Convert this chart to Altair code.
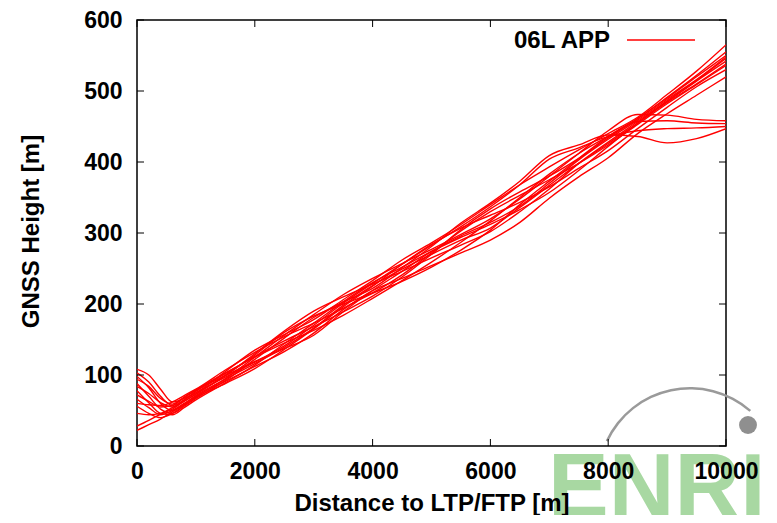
import altair as alt
import pandas as pd

# ---------------- data ----------------
dist = [0, 200, 400, 600, 800, 1000, 1500, 2000, 2500, 3000, 3500, 4000,
        4500, 5000, 5500, 6000, 6500, 7000, 7500, 8000, 8500, 9000, 9500, 10000]

track_01 = [22, 30, 38, 48, 59, 71, 94, 116, 139, 166, 198, 226, 249, 270, 290, 307, 336, 367, 398, 426, 455, 484, 510, 538]
track_02 = [28, 36, 45, 54, 63, 73, 99, 130, 162, 190, 210, 228, 246, 265, 283, 302, 330, 362, 398, 428, 457, 486, 515, 546]
track_03 = [108, 100, 80, 62, 67, 75, 105, 135, 157, 178, 206, 233, 262, 286, 312, 340, 368, 393, 417, 440, 463, 495, 528, 565]
track_04 = [103, 90, 70, 57, 65, 77, 102, 126, 148, 168, 189, 211, 238, 270, 305, 334, 358, 380, 405, 434, 461, 491, 522, 555]
track_05 = [98, 82, 60, 50, 58, 69, 95, 125, 156, 185, 213, 236, 257, 277, 298, 320, 348, 380, 412, 444, 467, 466, 460, 458]
track_06 = [94, 84, 67, 59, 69, 79, 103, 125, 145, 163, 184, 208, 233, 259, 287, 317, 350, 383, 412, 436, 457, 458, 455, 454]
track_07 = [88, 70, 52, 46, 56, 67, 92, 122, 152, 181, 203, 222, 251, 281, 314, 342, 373, 409, 424, 438, 436, 427, 433, 447]
track_08 = [84, 74, 61, 55, 65, 75, 97, 118, 141, 170, 201, 229, 256, 283, 309, 337, 368, 404, 420, 436, 444, 447, 448, 450]
track_09 = [78, 61, 46, 44, 54, 65, 89, 114, 144, 173, 203, 230, 252, 274, 294, 312, 333, 357, 388, 422, 455, 485, 514, 542]
track_10 = [72, 63, 55, 57, 68, 78, 99, 119, 137, 156, 189, 219, 246, 274, 296, 315, 338, 370, 403, 432, 459, 488, 516, 548]
track_11 = [66, 54, 44, 50, 60, 70, 91, 112, 133, 159, 192, 219, 236, 254, 272, 290, 315, 349, 379, 406, 440, 468, 494, 520]
track_12 = [60, 58, 57, 62, 71, 80, 107, 132, 154, 173, 194, 215, 232, 252, 276, 304, 340, 373, 405, 436, 461, 490, 520, 550]
track_13 = [56, 46, 40, 46, 57, 68, 88, 109, 136, 165, 196, 225, 256, 284, 307, 325, 343, 365, 391, 416, 447, 477, 506, 530]
track_14 = [46, 44, 46, 52, 63, 73, 100, 128, 160, 183, 200, 216, 241, 272, 303, 330, 353, 375, 398, 424, 453, 482, 509, 536]

tracks = [track_01, track_02, track_03, track_04, track_05, track_06, track_07,
          track_08, track_09, track_10, track_11, track_12, track_13, track_14]

x_ticks = [0, 2000, 4000, 6000, 8000, 10000]
y_ticks = [0, 100, 200, 300, 400, 500, 600]
legend_label = "06L APP"
x_title = "Distance to LTP/FTP [m]"
y_title = "GNSS Height [m]"
watermark = "ENRI"

# ---------------- build tables ----------------
rows = []
for i, tr in enumerate(tracks):
    for d, h in zip(dist, tr):
        rows.append({"track": i, "dist": d, "height": h})
df = pd.DataFrame(rows)
xt = pd.DataFrame({"dist": x_ticks})
yt = pd.DataFrame({"height": y_ticks})
one = alt.Data(values=[{}])

W, H = 589, 426
FONT = "Liberation Sans"
xs = alt.Scale(domain=[0, 10000], nice=False, zero=False)
ys = alt.Scale(domain=[0, 600], nice=False, zero=False)

x_axis = alt.Axis(values=x_ticks, format="d", labelFlush=False, labelOverlap=False,
                  ticks=False, tickSize=0, domain=False, grid=False,
                  labelPadding=32, labelBaseline="alphabetic",
                  titleX=294.5, titleY=64, titleBaseline="alphabetic",
                  titleAlign="center", zindex=1)
y_axis = alt.Axis(values=y_ticks, format="d", labelFlush=False, labelOverlap=False,
                  ticks=False, tickSize=0, domain=False, grid=False,
                  labelPadding=15, titleX=-99, titleY=211,
                  titleAngle=270, titleBaseline="alphabetic",
                  titleAlign="center", zindex=1)
X = alt.X("dist:Q", scale=xs, title=x_title, axis=x_axis)
Y = alt.Y("height:Q", scale=ys, title=y_title, axis=y_axis)

# watermark (behind the axis texts)
wm_text = alt.Chart(one).mark_text(
    text=watermark, font=FONT, fontSize=91, fontWeight="bold",
    color="#a8d8a2", align="left", baseline="alphabetic"
).encode(x=alt.value(411), y=alt.value(497))

wm_arc = alt.Chart(one).mark_arc(
    radius=93, radius2=90.5, theta=5.15, theta2=7.0, color="#9a9a9a"
).encode(x=alt.value(553), y=alt.value(460))

wm_dot = alt.Chart(one).mark_circle(size=320, color="#8f8f8f", opacity=1).encode(
    x=alt.value(611), y=alt.value(405))

lines = alt.Chart(df).mark_line(
    color="#ff0000", strokeWidth=1.4, interpolate="monotone", clip=True
).encode(x=X, y=Y, detail="track:N")

tick_b = alt.Chart(xt).mark_rule(color="black", strokeWidth=1).encode(
    x=X, y=alt.value(H), y2=alt.value(H - 7))
tick_t = alt.Chart(xt).mark_rule(color="black", strokeWidth=1).encode(
    x=X, y=alt.value(0), y2=alt.value(7))
tick_l = alt.Chart(yt).mark_rule(color="black", strokeWidth=1).encode(
    y=Y, x=alt.value(0), x2=alt.value(7))
tick_r = alt.Chart(yt).mark_rule(color="black", strokeWidth=1).encode(
    y=Y, x=alt.value(W), x2=alt.value(W - 7))

leg_text = alt.Chart(one).mark_text(
    text=legend_label, font=FONT, fontSize=24, fontWeight="bold",
    color="black", align="right", baseline="alphabetic"
).encode(x=alt.value(473), y=alt.value(28))
leg_line = alt.Chart(one).mark_rule(color="#ff0000", strokeWidth=1.5).encode(
    x=alt.value(490), x2=alt.value(558), y=alt.value(20))

chart = alt.layer(
    lines, wm_text, wm_arc, wm_dot, tick_b, tick_t, tick_l, tick_r, leg_text, leg_line
).properties(
    width=W, height=H,
    padding={"left": 129, "top": 12, "right": 42, "bottom": 69},
    autosize=alt.AutoSizeParams(type="none"),
    background="white",
).configure_view(
    stroke="black", strokeWidth=1.5
).configure_axis(
    labelFont=FONT, labelFontSize=23, labelFontWeight="bold", labelColor="black",
    titleFont=FONT, titleFontSize=24, titleFontWeight="bold", titleColor="black",
)

chart.save("out.html", embed_options={"renderer": "svg", "actions": False})
